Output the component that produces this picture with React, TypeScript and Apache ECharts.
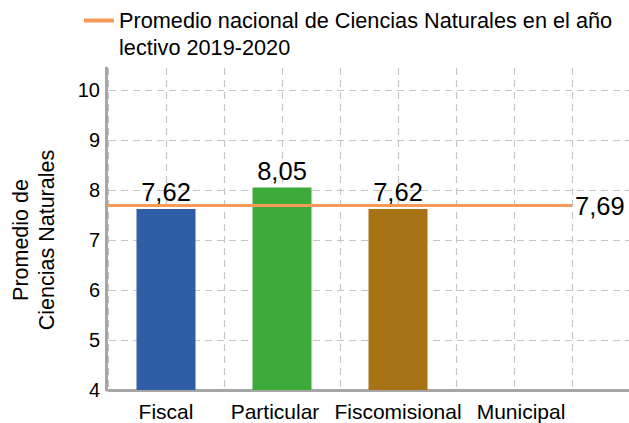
import React, { useEffect, useRef } from "react";
import * as echarts from "echarts";

const categories = ["Fiscal", "Particular", "Fiscomisional", "Municipal"];
const values: (number | null)[] = [7.62, 8.05, 7.62, null];
const barColors = ["#2F5DA6", "#3DAB3A", "#A87317", "#888888"];
const nationalAverage = 7.69;
const legendName = "Promedio nacional de Ciencias Naturales en el año\nlectivo 2019-2020";
const yAxisName = "Promedio de\nCiencias Naturales";
const yTicks = { min: 4, max: 10, interval: 1 };
// small horizontal nudges of category labels (as in the original layout)
const labelShift = [0, -7, 0, 7];

const FONT = "'Liberation Sans', Arial, sans-serif";
const fmt = (v: number) => v.toFixed(2).replace(".", ",");

export default function App() {
  const ref = useRef<HTMLDivElement>(null);
  useEffect(() => {
    if (!ref.current) return;
    const chart = echarts.init(ref.current, undefined, { renderer: "svg" });
    const dash = { color: "#C6C6C6", width: 1.2, type: [7, 5] as number[] };
    const halfBands = Array.from({ length: categories.length * 2 }, (_, i) => String(i));
    const rich: Record<string, any> = {};
    labelShift.forEach((s, i) => {
      rich["c" + i] = {
        fontSize: 21,
        color: "#000",
        fontFamily: FONT,
        padding: s < 0 ? [0, -2 * s, 0, 0] : [0, 0, 0, 2 * s],
      };
    });
    chart.setOption({
      animation: false,
      textStyle: { fontFamily: FONT },
      legend: {
        left: 84,
        top: -20,
        padding: 0,
        icon: "rect",
        itemWidth: 30,
        itemHeight: 4,
        itemGap: 5,
        data: [legendName],
        // leading blank line keeps the icon level with the first text line
        formatter: (name: string) => " \n" + name,
        textStyle: { fontSize: 21.7, color: "#000", lineHeight: 27, fontFamily: FONT },
      },
      grid: [
        { left: 108, right: 57, top: 68, bottom: 33 },
        { left: 108, right: 0, top: 90, bottom: 33 },
      ],
      xAxis: [
        {
          type: "category",
          gridIndex: 0,
          data: categories,
          axisLine: { show: false },
          axisTick: { show: false },
          axisLabel: {
            fontSize: 21,
            color: "#000",
            margin: 11,
            interval: 0,
            fontFamily: FONT,
            formatter: (v: string) => `{c${categories.indexOf(v)}|${v}}`,
            rich,
          },
          splitLine: { show: false },
        },
        {
          type: "category",
          gridIndex: 0,
          data: halfBands,
          axisLine: { show: false },
          axisTick: { show: false },
          axisLabel: { show: false },
          splitLine: { show: true, interval: 0, lineStyle: dash },
        },
        {
          type: "value",
          gridIndex: 1,
          min: 0,
          max: 1,
          axisLine: { show: true, onZero: false, lineStyle: { color: "#A6A6A6", width: 3 } },
          axisTick: { show: false },
          axisLabel: { show: false },
          splitLine: { show: false },
        },
      ],
      yAxis: [
        {
          type: "value",
          gridIndex: 0,
          min: 4,
          max: 10.44,
          offset: 2,
          axisLine: { show: true, lineStyle: { color: "#A6A6A6", width: 3 } },
          axisTick: { show: false },
          axisLabel: { show: false },
          splitLine: { show: false },
        },
        {
          type: "value",
          gridIndex: 1,
          min: yTicks.min,
          max: yTicks.max,
          interval: yTicks.interval,
          axisLine: { show: false },
          axisTick: { show: false },
          axisLabel: { fontSize: 20, color: "#000", margin: 9, fontFamily: FONT },
          splitLine: { show: true, lineStyle: dash },
          name: yAxisName,
          nameLocation: "middle",
          nameGap: 49,
          nameTextStyle: { fontSize: 21.5, color: "#000", lineHeight: 26, fontFamily: FONT },
        },
      ],
      series: [
        {
          type: "bar",
          xAxisIndex: 0,
          yAxisIndex: 0,
          barWidth: 59,
          data: values.map((v, i) => ({ value: v, itemStyle: { color: barColors[i] } })),
          label: {
            show: true,
            position: "top",
            distance: 4,
            fontSize: 25.5,
            color: "#000",
            fontFamily: FONT,
            formatter: (p: any) => (p.value == null ? "" : fmt(p.value)),
          },
        },
        {
          type: "line",
          name: legendName,
          xAxisIndex: 0,
          yAxisIndex: 0,
          data: [],
          itemStyle: { color: "#F79A59" },
          lineStyle: { color: "#F79A59", width: 3 },
          markLine: {
            silent: true,
            symbol: "none",
            lineStyle: { color: "#F79A59", width: 3, type: "solid" },
            label: {
              position: "end",
              distance: 3,
              fontSize: 25.5,
              color: "#000",
              fontFamily: FONT,
              formatter: (p: any) => fmt(p.value),
            },
            data: [{ yAxis: nationalAverage }],
          },
        },
      ],
    });
    return () => chart.dispose();
  }, []);
  return <div ref={ref} style={{ width: 629, height: 423, position: "absolute", left: 0, top: 0 }} />;
}
